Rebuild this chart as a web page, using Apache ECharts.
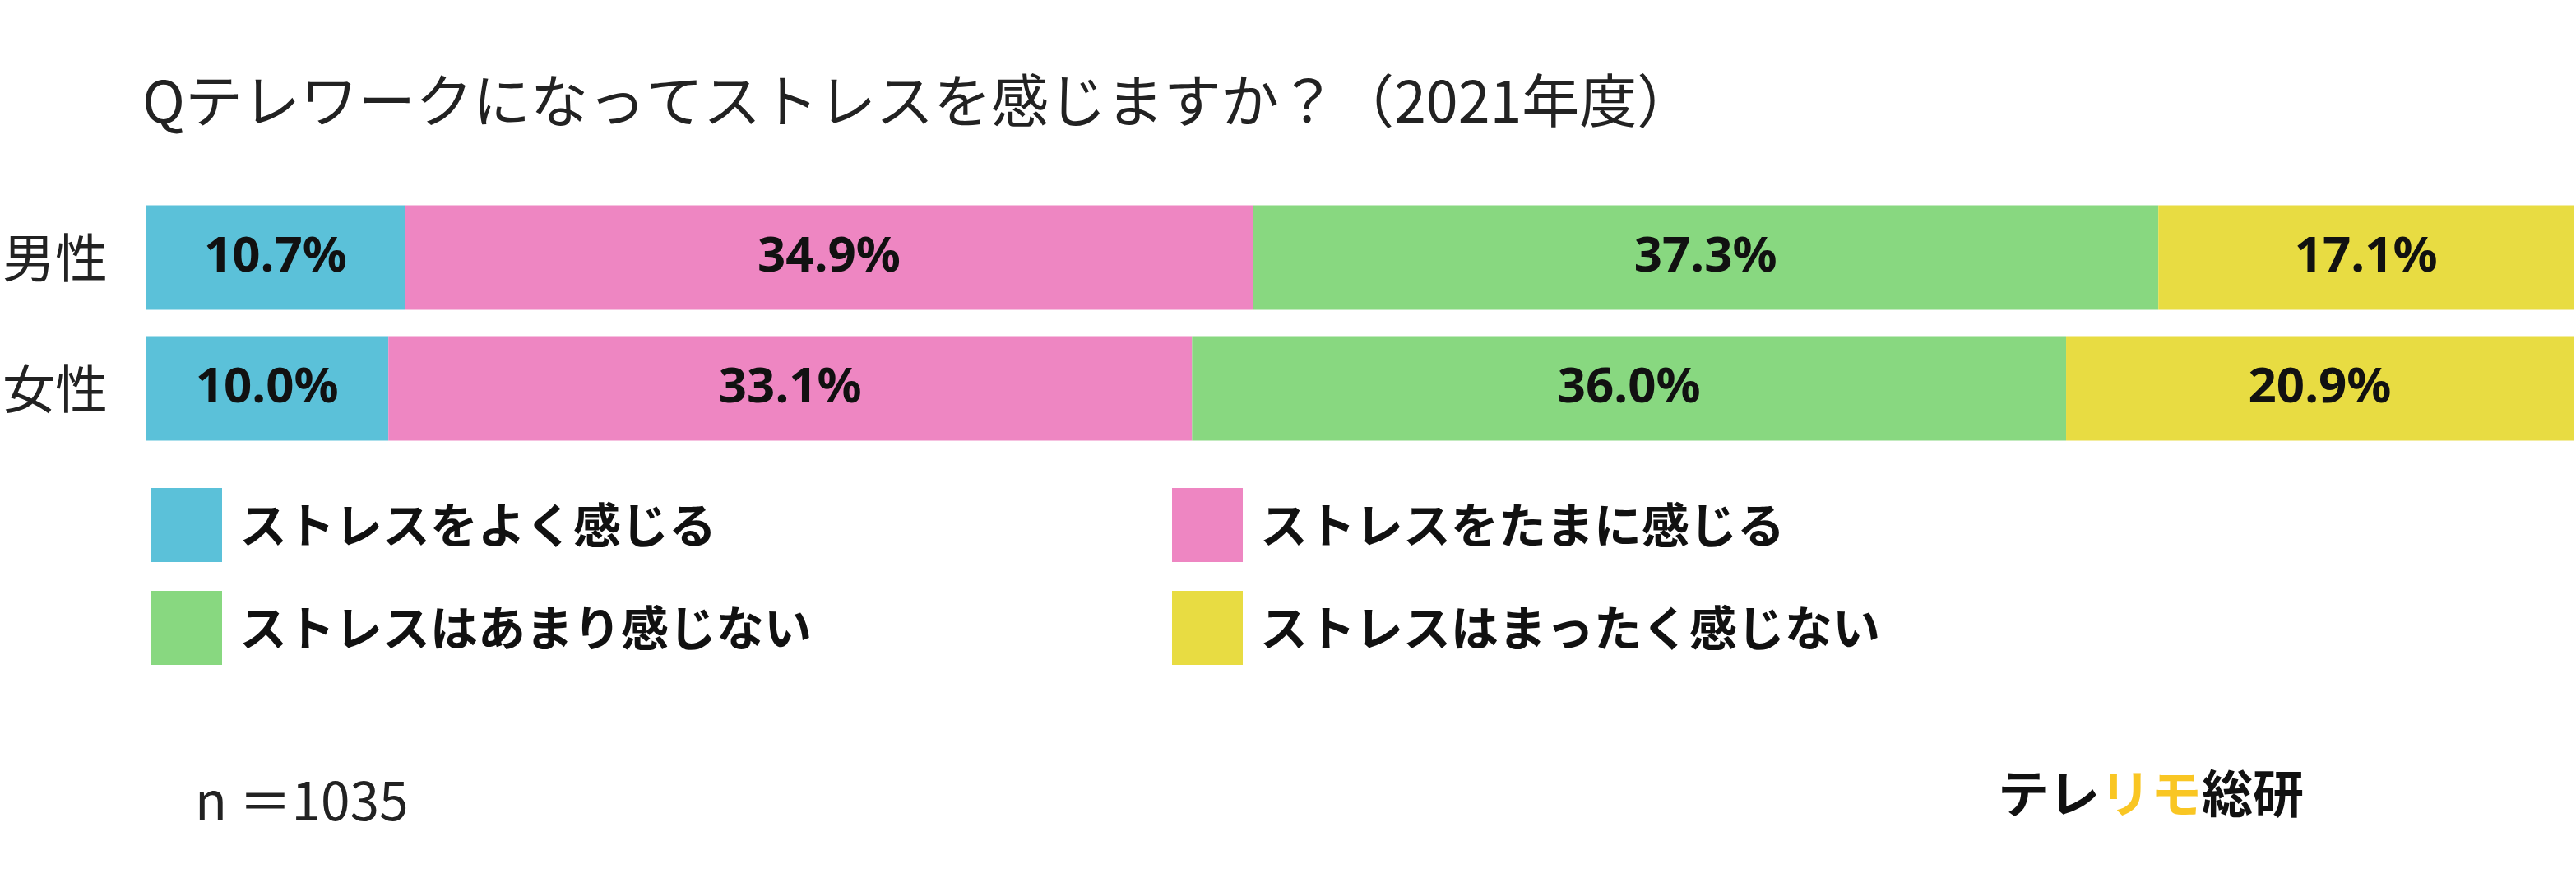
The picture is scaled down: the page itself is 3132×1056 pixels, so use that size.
<!DOCTYPE html>
<html><head><meta charset="utf-8">
<script src="https://cdn.jsdelivr.net/npm/echarts@6/dist/echarts.min.js"></script>
<style>html,body{margin:0;padding:0;background:#fff}#c{width:3132px;height:1056px}</style>
</head><body><div id="c"></div>
<script>
const categories = ['男性', '女性'];
const seriesNames = ['ストレスをよく感じる', 'ストレスをたまに感じる', 'ストレスはあまり感じない', 'ストレスはまったく感じない'];
const often = [10.7, 10.0];
const sometimes = [34.9, 33.1];
const rarely = [37.3, 36.0];
const never = [17.1, 20.9];
const colors = ['#5BC1D9', '#EE86C2', '#88D880', '#E8DC42'];
const titleText = 'Qテレワークになってストレスを感じますか？（2021年度）';
const noteText = 'n ＝1035';

const values = [often, sometimes, rarely, never];
const JP = '"Noto Sans CJK JP", "Noto Sans", sans-serif';

const chart = echarts.init(document.getElementById('c'), null, {renderer: 'canvas'});
chart.setOption({
  animation: false,
  backgroundColor: '#fff',
  title: [
    {text: titleText, left: 168, top: 80, textStyle: {fontFamily: JP, fontSize: 70, fontWeight: 'normal', color: '#222', lineHeight: 74}},
    {text: noteText, left: 232, top: 934, textStyle: {fontFamily: JP, fontSize: 64, fontWeight: 'normal', color: '#222', lineHeight: 68}},
    {text: '{a|テレ}{b|リモ}{a|総研}', left: 2424, top: 928,
     textStyle: {rich: {
       a: {fontFamily: JP, fontSize: 62, fontWeight: 'bold', color: '#111'},
       b: {fontFamily: JP, fontSize: 62, fontWeight: 'bold', color: '#F9C623'}
     }}}
  ],
  legend: [
    {data: [seriesNames[0], seriesNames[2]], orient: 'vertical', left: 179, top: 588, itemGap: 35,
     itemWidth: 86, itemHeight: 90, icon: 'rect', selectedMode: false,
     textStyle: {fontFamily: JP, fontSize: 58, fontWeight: 'bold', color: '#111', padding: [0, 0, 0, 16]}},
    {data: [seriesNames[1], seriesNames[3]], orient: 'vertical', left: 1420, top: 588, itemGap: 35,
     itemWidth: 86, itemHeight: 90, icon: 'rect', selectedMode: false,
     textStyle: {fontFamily: JP, fontSize: 58, fontWeight: 'bold', color: '#111', padding: [0, 0, 0, 16]}}
  ],
  grid: {left: 176, right: 3, top: 233.5, height: 318, containLabel: false},
  xAxis: {type: 'value', min: 0, max: 100, show: false},
  yAxis: {
    type: 'category', data: categories, inverse: true,
    axisLine: {show: false}, axisTick: {show: false}, splitLine: {show: false},
    axisLabel: {align: 'left', margin: 174, fontFamily: JP, fontSize: 64, color: '#222'}
  },
  series: seriesNames.map((name, i) => ({
    name: name, type: 'bar', stack: 'total', data: values[i], barWidth: 127,
    itemStyle: {color: colors[i]},
    label: {show: true, position: 'inside', formatter: p => p.value.toFixed(1) + '%',
      fontFamily: '"Noto Sans", sans-serif', fontWeight: 'bold', fontSize: 60, color: '#111'}
  }))
});
</script></body></html>
